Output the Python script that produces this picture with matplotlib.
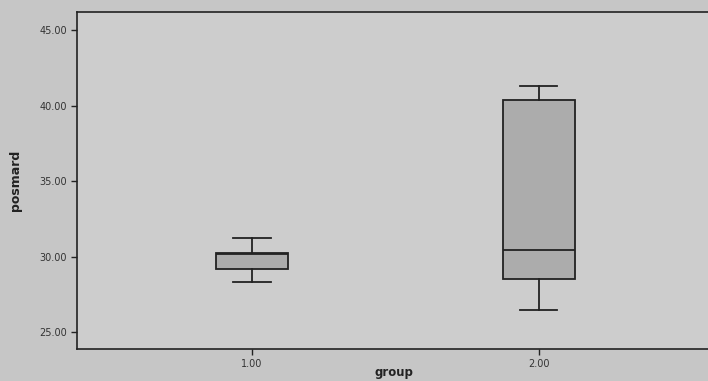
import matplotlib.pyplot as plt
from matplotlib.ticker import FormatStrFormatter

# boxplot summary per group
groups = [1.0, 2.0]
whisker_low = [28.3, 26.5]
q1 = [29.2, 28.5]
medians = [30.2, 30.45]
q3 = [30.25, 40.4]
whisker_high = [31.25, 41.3]
y_ticks = [25, 30, 35, 40, 45]
x_ticks = [1.0, 2.0]

stats = [
    dict(whislo=lo, q1=a, med=m, q3=b, whishi=hi, fliers=[])
    for lo, a, m, b, hi in zip(whisker_low, q1, medians, q3, whisker_high)
]

fig = plt.figure(figsize=(7.08, 3.81), dpi=100, facecolor="#c6c6c6")
ax = fig.add_axes([0.109, 0.084, 0.895, 0.885])
ax.set_facecolor("#cdcdcd")

line = dict(color="#222222", linewidth=1.3)
ax.bxp(stats, positions=groups, widths=0.25, patch_artist=True, showfliers=False,
       boxprops=dict(facecolor="#acacac", edgecolor="#222222", linewidth=1.3),
       medianprops=line, whiskerprops=line, capprops=line, capwidths=0.13)

ax.set_xlim(0.39, 2.6)
ax.set_ylim(23.9, 46.2)
ax.set_xticks(x_ticks)
ax.set_yticks(y_ticks)
ax.xaxis.set_major_formatter(FormatStrFormatter("%.2f"))
ax.yaxis.set_major_formatter(FormatStrFormatter("%.2f"))
ax.tick_params(labelsize=7, length=4, width=1, colors="#222222", labelcolor="#333333")
for s in ax.spines.values():
    s.set_color("#222222")
    s.set_linewidth(1.2)
ax.spines["right"].set_visible(False)

ax.set_xlabel("group", fontsize=8.5, fontweight="bold", color="#222222")
ax.xaxis.set_label_coords(0.5, -0.05)
ax.set_ylabel("posmard", fontsize=9, fontweight="bold", color="#222222", labelpad=12)

fig.savefig("out.png", dpi=100, facecolor=fig.get_facecolor())
